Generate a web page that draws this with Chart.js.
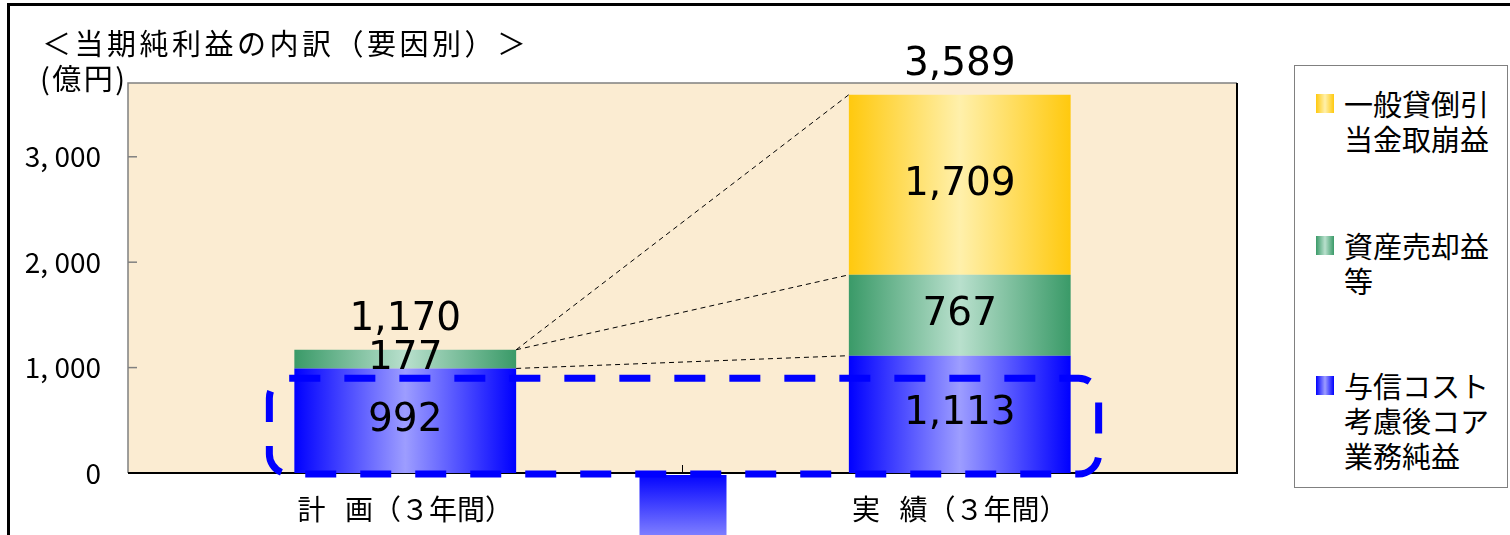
<!DOCTYPE html>
<html>
<head>
<meta charset="utf-8">
<script src="https://cdn.jsdelivr.net/npm/chart.js@4/dist/chart.umd.min.js"></script>
<style>
    body { margin: 0; background: #fff; }
    #wrap { position: relative; width: 1510px; height: 535px; overflow: hidden; font-family: "Noto Sans CJK JP", sans-serif; }
    #frame { position: absolute; left: 7px; top: 3px; width: 1510px; height: 600px; border-left: 3px solid #000; border-top: 3px solid #000; }
    #title { position: absolute; left: 42px; top: 22px; font-size: 29px; letter-spacing: 3.5px; line-height: 40px; white-space: nowrap; }
    #unit { position: absolute; left: 40px; top: 59px; font-size: 29px; letter-spacing: 2.5px; line-height: 36px; white-space: nowrap; }
    #legend { position: absolute; left: 1294px; top: 65px; width: 212px; height: 421px; border: 1px solid #808080; background: #fff; }
    .item { position: absolute; left: 21px; font-size: 29px; line-height: 35px; }
    .item .sw { position: absolute; left: 0; top: 8px; width: 18px; height: 19px; }
    .item .tx { margin-left: 28px; white-space: nowrap; }
    canvas { position: absolute; left: 0; top: 0; }
</style>
</head>
<body>
<div id="wrap">
    <div id="frame"></div>
    <canvas id="chart" width="1510" height="535"></canvas>
    <div id="title">＜当期純利益の内訳（要因別）＞</div>
    <div id="unit">(億円)</div>
    <div id="legend"></div>
</div>
<script>
// data
const categories = ['計\u2002\u2009画（３年間）', '実\u2002\u2009績（３年間）'];
const coreProfit = [992, 1113];     // 与信コスト考慮後コア業務純益
const assetGains = [177, 767];      // 資産売却益等
const reserveReversal = [0, 1709];  // 一般貸倒引当金取崩益
const totals = [1170, 3589];
const yTicks = [0, 1000, 2000, 3000];

const names = [
    ['与信コスト', '考慮後コア', '業務純益'],
    ['資産売却益', '等'],
    ['一般貸倒引', '当金取崩益']
];
const edgeColors = ['#0000ff', '#3a9a68', '#ffc90e'];
const lightColors = ['#9d9dff', '#b9e0cd', '#fff0ab'];

function barGradient(ctx, x0, x1, i) {
    const g = ctx.createLinearGradient(x0, 0, x1, 0);
    g.addColorStop(0, edgeColors[i]);
    g.addColorStop(0.5, lightColors[i]);
    g.addColorStop(1, edgeColors[i]);
    return g;
}

function fill(i) {
    return (c) => {
        const chart = c.chart;
        const xs = chart.scales.x;
        if (!chart.chartArea || !xs) return edgeColors[i];
        const x = xs.getPixelForValue(c.dataIndex);
        const half = xs.width / categories.length * 0.4 / 2;
        return barGradient(chart.ctx, x - half, x + half, i);
    };
}

const fmt = v => v.toLocaleString('en-US');

const decorations = {
    id: 'decorations',
    beforeDatasetsDraw(chart) {
        const { ctx, chartArea: a } = chart;
        ctx.save();
        ctx.fillStyle = '#fbecd2';
        ctx.fillRect(a.left, a.top, a.right - a.left, a.bottom - a.top);
        ctx.lineWidth = 1.5;
        ctx.strokeStyle = '#808080';
        ctx.beginPath();
        ctx.moveTo(a.left, a.bottom); ctx.lineTo(a.left, a.top); ctx.lineTo(a.right, a.top);
        ctx.stroke();
        // y ticks point inward
        yTicks.forEach(v => {
            const y = chart.scales.y.getPixelForValue(v);
            ctx.beginPath(); ctx.moveTo(a.left, y); ctx.lineTo(a.left + 9, y); ctx.stroke();
        });
        ctx.strokeStyle = '#000';
        ctx.lineWidth = 2;
        ctx.beginPath();
        ctx.moveTo(a.left, a.bottom); ctx.lineTo(a.right, a.bottom); ctx.lineTo(a.right, a.top);
        ctx.stroke();
        const mid = (chart.scales.x.getPixelForValue(0) + chart.scales.x.getPixelForValue(1)) / 2;
        ctx.lineWidth = 1;
        ctx.beginPath(); ctx.moveTo(mid, a.bottom); ctx.lineTo(mid, a.bottom - 8); ctx.stroke();
        ctx.restore();
    },
    afterDatasetsDraw(chart) {
        const { ctx, chartArea: a } = chart;
        const ys = chart.scales.y;
        const blue = chart.getDatasetMeta(0).data;
        const green = chart.getDatasetMeta(1).data;
        const yellow = chart.getDatasetMeta(2).data;
        const w = blue[0].width;
        ctx.save();

        // dashed connectors between the two bars
        ctx.strokeStyle = '#000';
        ctx.lineWidth = 1;
        ctx.setLineDash([5, 4]);
        const r1 = blue[0].x + w / 2, l2 = blue[1].x - w / 2;
        [[green[0].y, yellow[1].y], [green[0].y, green[1].y], [blue[0].y, blue[1].y]].forEach(([ya, yb]) => {
            ctx.beginPath(); ctx.moveTo(r1, ya); ctx.lineTo(l2, yb); ctx.stroke();
        });
        ctx.setLineDash([]);

        // blue block below the axis, between categories
        const mid = (blue[0].x + blue[1].x) / 2;
        const g = ctx.createLinearGradient(0, a.bottom, 0, a.bottom + 62);
        g.addColorStop(0, '#0000ff');
        g.addColorStop(1, '#7d7dff');
        ctx.fillStyle = g;
        ctx.fillRect(mid - 43, a.bottom + 2, 87, 62);

        // dashed rounded frame around the core profit bars
        const left = blue[0].x - w / 2 - 25, right = blue[1].x + w / 2 + 28;
        const top = ys.getPixelForValue(900), bottom = a.bottom + 1;
        ctx.strokeStyle = '#0000ff';
        ctx.lineWidth = 7;
        ctx.setLineDash([31, 24]);
        ctx.beginPath();
        ctx.roundRect(left, top, right - left, bottom - top, 20);
        ctx.stroke();
        ctx.setLineDash([]);

        // value labels
        ctx.fillStyle = '#000';
        ctx.font = '39px "DejaVu Sans"';
        ctx.textAlign = 'center';
        ctx.textBaseline = 'middle';
        [blue, green, yellow].forEach((els, di) => {
            els.forEach((el, i) => {
                const v = chart.data.datasets[di].data[i];
                if (!v) return;
                ctx.fillText(fmt(v), el.x, (el.y + el.base) / 2);
            });
        });
        totals.forEach((t, i) => {
            const topY = Math.min(blue[i].y, green[i].y, yellow[i].y);
            ctx.fillText(fmt(t), blue[i].x, topY - 30);
        });
        ctx.restore();
    }
};

new Chart(document.getElementById('chart'), {
    type: 'bar',
    data: {
        labels: categories,
        datasets: [
            { label: names[0].join(''), data: coreProfit, backgroundColor: fill(0) },
            { label: names[1].join(''), data: assetGains, backgroundColor: fill(1) },
            { label: names[2].join(''), data: reserveReversal, backgroundColor: fill(2) }
        ]
    },
    options: {
        responsive: false,
        animation: false,
        devicePixelRatio: 1,
        layout: { padding: { top: 83, right: 273, left: 0, bottom: 0 } },
        datasets: { bar: { categoryPercentage: 1, barPercentage: 0.4, borderWidth: 0 } },
        plugins: { legend: { display: false }, tooltip: { enabled: false } },
        scales: {
            x: {
                stacked: true,
                grid: { display: false },
                border: { display: false },
                ticks: { color: '#000', padding: 12, font: { family: '"Noto Sans CJK JP"', size: 28 } },
                afterFit: s => { s.height = 62; }
            },
            y: {
                stacked: true,
                min: 0,
                max: 3700,
                grid: { display: false },
                border: { display: false },
                afterBuildTicks: s => { s.ticks = yTicks.map(v => ({ value: v })); },
                ticks: {
                    color: '#000',
                    padding: 19,
                    font: { family: '"Noto Sans CJK JP"', size: 28 },
                    callback: v => fmt(v).replace(',', ', ')
                },
                afterFit: s => { s.width = 128; }
            }
        }
    },
    plugins: [decorations]
});

// legend, listed top to bottom in reverse stacking order
const legendEl = document.getElementById('legend');
const tops = [20, 162, 302];
[2, 1, 0].forEach((di, k) => {
    const item = document.createElement('div');
    item.className = 'item';
    item.style.top = tops[k] + 'px';
    const sw = document.createElement('div');
    sw.className = 'sw';
    sw.style.background = `linear-gradient(to right, ${edgeColors[di]}, ${lightColors[di]}, ${edgeColors[di]})`;
    const tx = document.createElement('div');
    tx.className = 'tx';
    tx.innerHTML = names[di].join('<br>');
    item.appendChild(sw);
    item.appendChild(tx);
    legendEl.appendChild(item);
});
</script>
</body>
</html>
